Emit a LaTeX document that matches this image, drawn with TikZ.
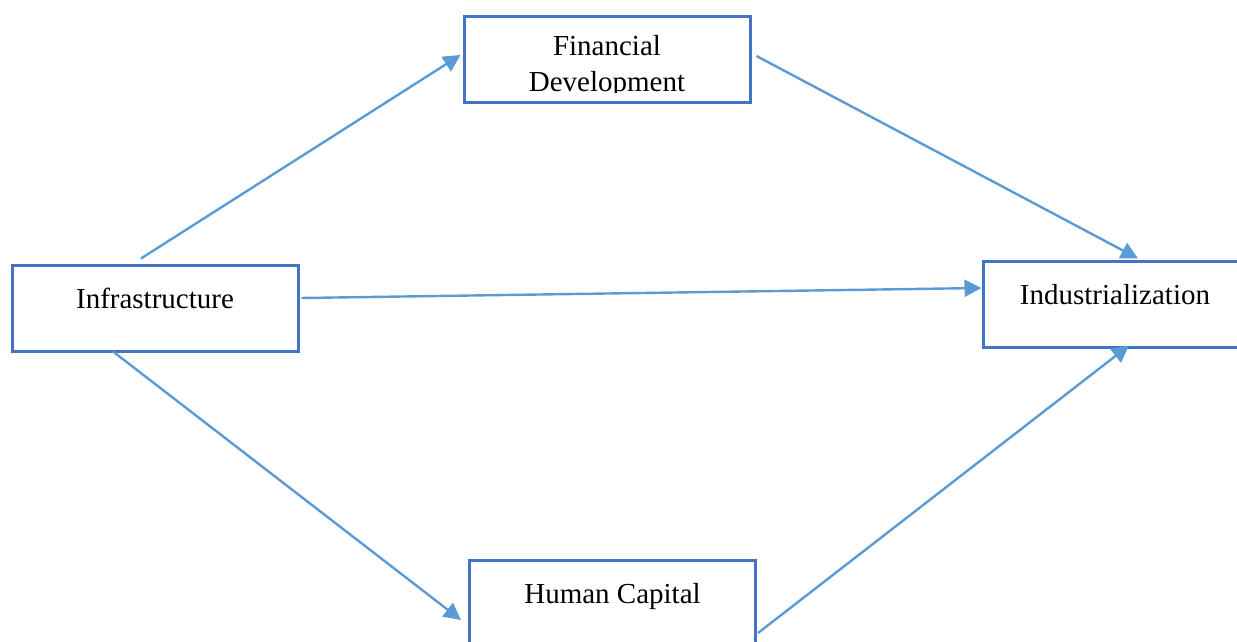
\documentclass[tikz,border=0pt]{standalone}
\usepackage{fontspec}
\setmainfont{Liberation Serif}
\usepackage{tikz}
\usetikzlibrary{arrows.meta}

\definecolor{boxblue}{HTML}{4472C4}
\definecolor{arrowblue}{HTML}{5B9BD5}

\tikzset{
  varbox/.style={draw=boxblue, line width=1.5pt, fill=white, rectangle,
    minimum width=143pt, minimum height=43pt, inner sep=0pt,
    text height=1.4ex, text depth=1.4ex},
  link/.style={draw=arrowblue, line width=1.2pt,
    -{Triangle[length=8.5pt, width=8.5pt]}},
  every node/.style={font=\fontsize{14.5}{18}\selectfont}
}

\begin{document}
\begin{tikzpicture}[x=0.5pt, y=-0.5pt]
    \useasboundingbox (0,0) rectangle (1237,642);

    \node[varbox] (infra) at (155,308) {Infrastructure};
    \node[varbox] (fin) at (607,60) {};
    \node[varbox, minimum width=132pt] (ind) at (1115,304) {Industrialization};
    \node[varbox] (hum) at (612.5,603) {Human Capital};

    % text of the upper box is cut off by its frame
    \begin{scope}
      \clip (fin.north west) rectangle ([shift={(0,-12)}]fin.south east);
      \node[align=center, anchor=base, inner sep=0pt] (fintxt) at (607,92) {Financial\\Development};
    \end{scope}

    \draw[link] ([shift={(-14,-5)}]infra.north) -- ([shift={(-2,-5)}]fin.west);
    \draw[link] ([shift={(5,-4)}]fin.east) -- ([shift={(23,-1)}]ind.north);
    \draw[link] ([shift={(2,-10)}]infra.east) -- ([shift={(0,-16)}]ind.west);
    \draw[link] ([shift={(-42,-1)}]infra.south) -- ([shift={(-7,17)}]hum.west);
    \draw[link] ([shift={(1,30)}]hum.east) -- ([shift={(14,-3)}]ind.south);
\end{tikzpicture}
\end{document}
